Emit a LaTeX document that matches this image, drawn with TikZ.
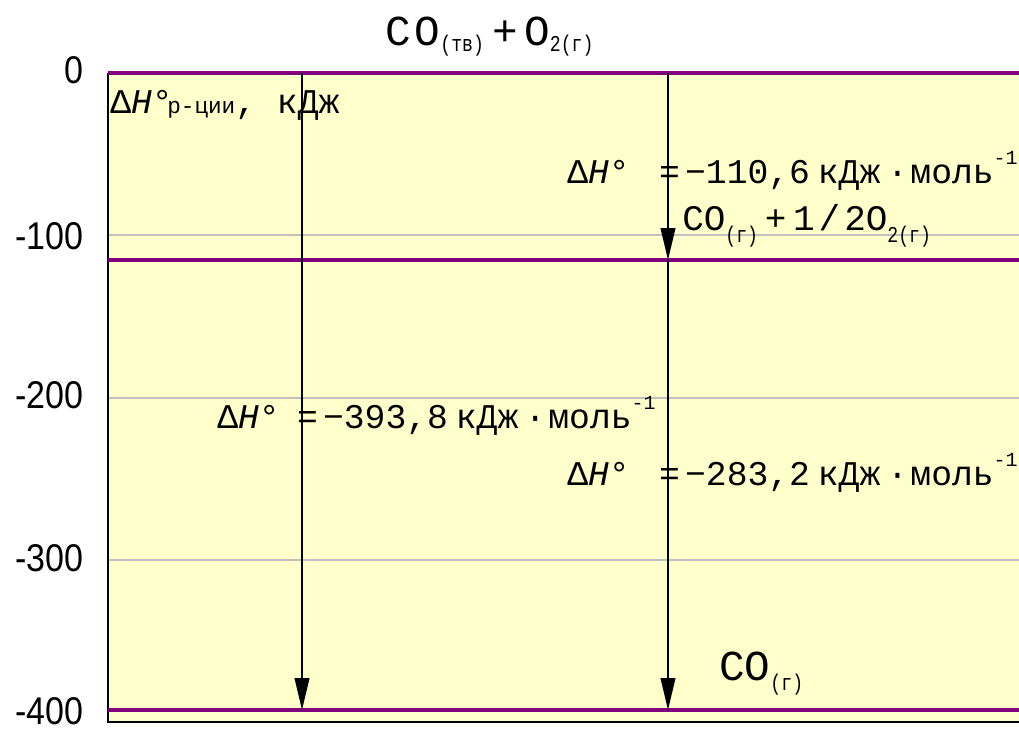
\documentclass[tikz,border=0pt]{standalone}
\usepackage{fontspec}
\setmainfont{Liberation Mono}
\setsansfont{Liberation Sans}
\usetikzlibrary{arrows.meta}
\definecolor{bgyellow}{HTML}{FFFFCC}
\definecolor{levelpurple}{HTML}{800080}
\definecolor{gridgray}{HTML}{C0C0C0}
\newcommand{\dHo}{Δ\textit{H}°}
\newcommand{\chemsub}[2][-7.5pt]{\raisebox{#1}{\fontsize{17}{17}\selectfont\scalebox{0.8}[1]{#2}}}
\newcommand{\supm}{\raisebox{14pt}{\fontsize{15}{15}\selectfont -1}}
\newcommand{\dHlabel}[2]{\dHo\hspace{#1}=\hspace{4pt}−#2\hspace{6pt}кДж\hspace{5pt}·\hspace{2pt}моль\supm}
\tikzset{
  level/.style={levelpurple, line width=3pt},
  gridline/.style={gridgray, line width=1pt},
  frame/.style={black, line width=1.5pt},
  enthalpy/.style={-{Triangle[length=24pt,width=11pt]}, line width=1.4pt},
  axislabel/.style={anchor=base east, inner sep=0pt, font=\sffamily\fontsize{29}{32}\selectfont},
  lbl/.style={anchor=base west, inner sep=0pt, font=\fontsize{26}{30}\selectfont},
  chem/.style={anchor=base west, inner sep=0pt, font=\fontsize{32}{36}\selectfont},
}
\begin{document}
\begin{tikzpicture}[x=0.75pt,y=-0.75pt]
\useasboundingbox (0,0) rectangle (1019,733);
% background
\fill[bgyellow] (108,73) rectangle (1019,722);
% grid lines
\draw[gridline] (108,235) -- (1019,235);
\draw[gridline] (108,398) -- (1019,398);
\draw[gridline] (108,560) -- (1019,560);
% frame
\draw[frame] (108,73) -- (108,722) -- (1019,722);
% levels
\draw[level] (108,73) -- (1019,73);
\draw[level] (108,260) -- (1019,260);
\draw[level] (108,710) -- (1019,710);
% axis labels
\node[axislabel] (y0) at (84,83) {\scalebox{0.88}[1]{0}};
\node[axislabel] (y100) at (84,249) {\scalebox{0.88}[1]{-100}};
\node[axislabel] (y200) at (84,408) {\scalebox{0.88}[1]{-200}};
\node[axislabel] (y300) at (84,571) {\scalebox{0.88}[1]{-300}};
\node[axislabel] (y400) at (84,724) {\scalebox{0.88}[1]{-400}};
% level coordinates
\coordinate (a0) at (302,73);
\coordinate (a1) at (302,710);
\coordinate (b0) at (668,73);
\coordinate (b1) at (668,260);
\coordinate (b2) at (668,710);
% arrows
\draw[enthalpy] (a0) -- (a1);
\draw[enthalpy] (b0) -- (b1);
\draw[enthalpy] (b1) -- (b2);
% texts
\node[lbl] (axtitle) at (110,113) {\dHo\hspace{-4pt}{\fontsize{17}{18}\selectfont р-ции}, кДж};
\node[chem] (top) at (385,45) {C\hspace{3pt}O\chemsub[-5pt]{(тв)}\hspace{6pt}+\hspace{5pt}O\chemsub[-5pt]{2(г)}};
\node[lbl] (dh1) at (567,183) {\dHlabel{22pt}{110,6}};
\node[chem, font=\fontsize{27}{30}\selectfont] (mid) at (682,230) {CO\chemsub[-9pt]{(г)}\hspace{5pt}+\hspace{5pt}1\hspace{3pt}/\hspace{3pt}2O\chemsub[-9pt]{2(г)}};
\node[lbl] (dh2) at (217,428) {\dHlabel{13pt}{393,8}};
\node[lbl] (dh3) at (567,485) {\dHlabel{22pt}{283,2}};
\node[chem] (bot) at (719,680) {CO\chemsub{(г)}};
\end{tikzpicture}
\end{document}
